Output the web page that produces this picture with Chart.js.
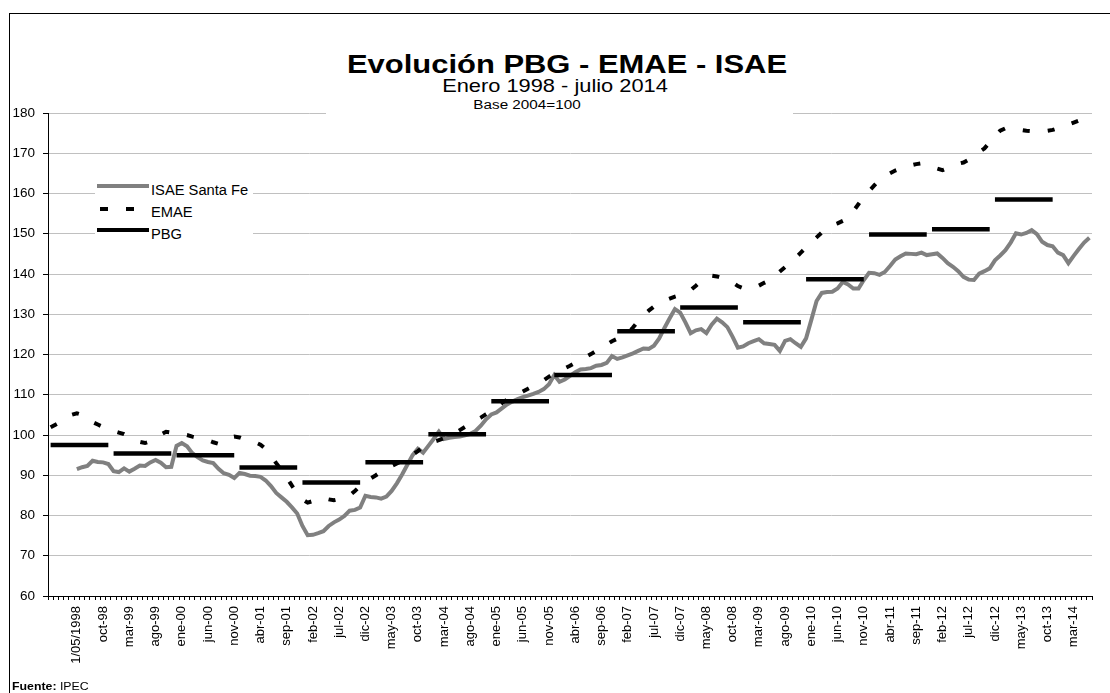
<!DOCTYPE html>
<html>
<head>
<meta charset="utf-8">
<script src="https://cdn.jsdelivr.net/npm/chart.js@4.4.1/dist/chart.umd.min.js"></script>
<style>
  body { margin: 0; background: #fff; font-family: "Liberation Sans", Arial, sans-serif; }
  #wrap { position: relative; width: 1110px; height: 693px; overflow: hidden; background: #fff; }
  #frame { position: absolute; left: 9px; top: 13px; width: 1200px; height: 800px; border: 1px solid #000; }
  canvas { position: absolute; left: 0; top: 0; }
  .box { position: absolute; background: #fff; }
  .t { position: absolute; white-space: nowrap; line-height: 1; color: #000; }
  .c { transform-origin: 50% 50%; }
  .l { transform-origin: 0 50%; }
  .sw { position: absolute; height: 4px; }
</style>
</head>
<body>
<div id="wrap">
  <div id="frame"></div>
  <canvas id="chart" width="1110" height="693"></canvas>

  <div class="box" style="left:326px;top:40px;width:467px;height:78px;"></div>
  <div class="t c" style="left:567px;top:51px;font-size:26px;font-weight:bold;transform:translateX(-50%) scaleX(1.19);">Evolución PBG - EMAE - ISAE</div>
  <div class="t c" style="left:555px;top:77px;font-size:18.5px;transform:translateX(-50%) scaleX(1.18);">Enero 1998 - julio 2014</div>
  <div class="t c" style="left:527px;top:98.7px;font-size:12.5px;transform:translateX(-50%) scaleX(1.22);">Base 2004=100</div>

  <div class="box" style="left:95px;top:178px;width:158px;height:66px;"></div>
  <div class="sw" style="left:97px;top:184px;width:52px;background:#808080;"></div>
  <div class="sw" style="left:100px;top:207px;width:8px;background:#000;"></div>
  <div class="sw" style="left:126px;top:207px;width:8px;background:#000;"></div>
  <div class="sw" style="left:97px;top:228px;width:52px;background:#000;"></div>
  <div class="t l" style="left:151px;top:183px;font-size:14px;transform:scaleX(1.05);">ISAE Santa Fe</div>
  <div class="t l" style="left:151px;top:205px;font-size:14px;transform:scaleX(1.05);">EMAE</div>
  <div class="t l" style="left:151px;top:226.5px;font-size:14px;transform:scaleX(1.05);">PBG</div>

  <div class="t l" style="left:12px;top:681px;font-size:11px;transform:scaleX(1.12);"><b>Fuente:</b> IPEC</div>
</div>

<script>
  // monthly categories: enero 1998 .. julio 2014
  var MONTHS = ["ene", "feb", "mar", "abr", "may", "jun", "jul", "ago", "sep", "oct", "nov", "dic"];
  var START_YEAR = 1998;
  var N_MONTHS = 199;

  // labels shown on the x axis (every 5 months, from the 6th category)
  var tickLabels = [
    "1/05/1998", "oct-98", "mar-99", "ago-99", "ene-00", "jun-00", "nov-00", "abr-01",
    "sep-01", "feb-02", "jul-02", "dic-02", "may-03", "oct-03", "mar-04", "ago-04",
    "ene-05", "jun-05", "nov-05", "abr-06", "sep-06", "feb-07", "jul-07", "dic-07",
    "may-08", "oct-08", "mar-09", "ago-09", "ene-10", "jun-10", "nov-10", "abr-11",
    "sep-11", "feb-12", "jul-12", "dic-12", "may-13", "oct-13", "mar-14"
  ];

  var yTicks = [60, 70, 80, 90, 100, 110, 120, 130, 140, 150, 160, 170, 180];

  // ISAE Santa Fe, monthly (starts jun-1998)
  var isae = [
    null, null, null, null, null, 91.5, 92.0, 92.3, 93.6, 93.3, 93.2, 92.8,
    91.0, 90.8, 91.7, 90.9, 91.6, 92.4, 92.3, 93.2, 93.8, 93.1, 92.0, 92.1,
    97.3, 98.0, 97.2, 95.5, 94.5, 93.7, 93.3, 93.0, 91.6, 90.5, 90.1, 89.3,
    90.6, 90.3, 89.9, 89.8, 89.6, 88.7, 87.3, 85.6, 84.5, 83.4, 82.0, 80.5,
    77.4, 75.1, 75.2, 75.6, 76.1, 77.4, 78.3, 79.0, 79.9, 81.2, 81.4, 82.0,
    84.9, 84.6, 84.5, 84.2, 84.7, 86.1, 88.0, 90.2, 92.6, 95.0, 96.6, 95.6,
    97.3, 99.0, 100.8, 99.0, 99.3, 99.5, 99.6, 99.9, 100.3, 101.0, 102.3, 103.9,
    105.1, 105.6, 106.6, 107.6, 108.3, 108.9, 109.4, 109.8, 110.2, 110.7, 111.4, 112.6,
    114.9, 113.2, 113.8, 114.7, 115.6, 116.3, 116.4, 116.6, 117.2, 117.4, 117.9, 119.6,
    118.9, 119.3, 119.8, 120.3, 120.9, 121.5, 121.4, 122.2, 124.0, 126.6, 129.0, 131.3,
    130.4, 128.0, 125.3, 126.0, 126.3, 125.3, 127.4, 128.9, 128.0, 126.8, 124.4, 121.7,
    122.0, 122.8, 123.3, 123.8, 122.8, 122.6, 122.4, 120.9, 123.4, 123.8, 122.8, 121.9,
    124.0, 128.6, 133.3, 135.3, 135.5, 135.6, 136.4, 138.0, 137.4, 136.4, 136.4, 138.5,
    140.3, 140.2, 139.8, 140.5, 142.0, 143.6, 144.4, 145.1, 145.0, 144.9, 145.3, 144.7,
    144.9, 145.1, 144.0, 142.7, 141.8, 140.7, 139.3, 138.6, 138.5, 140.1, 140.7, 141.4,
    143.4, 144.6, 145.9, 147.8, 150.1, 149.8, 150.2, 150.9, 149.9, 148.0, 147.2, 146.9,
    145.3, 144.7, 142.7, 144.5, 146.2, 147.8, 149.0
  ];

  // EMAE, monthly
  var emae = [
    101.9, 102.6, 103.3, 104.2, 105.0, 105.4, 105.0, 104.1, 103.2, 102.6, 102.0, 101.5,
    101.0, 100.6, 100.2, 99.5, 98.9, 98.3, 98.0, 98.4, 99.2, 100.1, 100.8, 100.6,
    100.4, 100.2, 100.0, 99.6, 99.3, 99.0, 98.7, 98.2, 97.8, 98.5, 99.3, 99.6,
    99.4, 98.9, 98.6, 98.2, 97.6, 96.5, 94.8, 93.0, 91.3, 89.4, 87.4, 85.5,
    84.0, 83.2, 83.6, 84.2, 84.3, 84.0, 83.8, 84.1, 84.3, 85.0, 86.1, 87.3,
    88.4, 89.2, 90.0, 90.9, 91.7, 92.3, 92.9, 93.6, 94.2, 95.1, 96.0, 97.0,
    97.8, 98.3, 98.7, 99.2, 99.6, 100.4, 101.2, 102.0, 102.8, 103.5, 104.3, 105.2,
    106.0, 106.9, 107.9, 108.8, 109.6, 110.1, 110.8, 111.5, 112.2, 112.8, 113.6, 114.5,
    115.3, 116.0, 116.6, 117.2, 117.9, 118.7, 119.4, 120.1, 120.9, 121.7, 122.5, 123.3,
    123.9, 124.6, 125.3, 126.7, 128.3, 129.8, 130.9, 131.9, 132.8, 133.4, 133.9, 134.4,
    134.8, 135.2, 136.0, 137.1, 138.3, 139.3, 139.6, 139.4, 139.0, 138.6, 137.9, 137.0,
    136.5, 136.3, 136.6, 137.1, 137.8, 138.4, 139.5, 140.6, 141.7, 142.7, 144.0, 145.3,
    146.6, 147.9, 149.1, 150.3, 151.4, 152.1, 152.6, 153.2, 153.8, 155.6, 157.4, 159.2,
    160.6, 162.0, 163.4, 164.3, 165.0, 165.7, 166.2, 166.6, 167.0, 167.3, 167.5, 167.2,
    166.7, 166.2, 165.8, 166.3, 166.9, 167.4, 167.7, 168.4, 169.3, 170.3, 171.2, 172.7,
    174.2, 175.6, 176.2, 176.0, 175.8, 175.8, 175.6, 175.5, 175.5, 175.6, 175.6, 175.8,
    176.2, 176.6, 177.1, 177.6, 178.1
  ];

  // PBG, one value per year 1998..2013
  var pbgYears = [1998, 1999, 2000, 2001, 2002, 2003, 2004, 2005, 2006, 2007, 2008, 2009, 2010, 2011, 2012, 2013];
  var pbg = [97.5, 95.4, 95.0, 91.9, 88.2, 93.2, 100.2, 108.4, 114.9, 125.8, 131.7, 128.0, 138.7, 149.8, 151.1, 158.5];

  var categories = [];
  for (var i = 0; i < N_MONTHS; i++) {
    categories.push(MONTHS[i % 12] + "-" + String(START_YEAR + Math.floor(i / 12)).slice(2));
  }

  // the annual PBG value repeated over the months of its year
  var pbgMonthly = categories.map(function (c, i) {
    var k = pbgYears.indexOf(START_YEAR + Math.floor(i / 12));
    return k >= 0 ? pbg[k] : null;
  });

  function sameYear(ctx) {
    return Math.floor(ctx.p0DataIndex / 12) === Math.floor(ctx.p1DataIndex / 12);
  }

  new Chart(document.getElementById("chart").getContext("2d"), {
    type: "line",
    data: {
      labels: categories,
      datasets: [
        {
          label: "ISAE Santa Fe",
          data: isae,
          borderColor: "#808080",
          borderWidth: 4,
          pointRadius: 0,
          tension: 0,
          order: 3
        },
        {
          label: "EMAE",
          data: emae,
          borderColor: "#000",
          borderWidth: 4,
          borderDash: [7, 18],
          borderCapStyle: "butt",
          pointRadius: 0,
          tension: 0,
          order: 2
        },
        {
          label: "PBG",
          data: pbgMonthly,
          borderColor: "#000",
          borderWidth: 4.5,
          borderCapStyle: "butt",
          pointRadius: 0,
          tension: 0,
          order: 1,
          segment: {
            borderColor: function (ctx) { return sameYear(ctx) ? "#000" : "rgba(0,0,0,0)"; }
          }
        }
      ]
    },
    options: {
      responsive: false,
      animation: false,
      devicePixelRatio: 1,
      layout: { padding: { top: 113, right: 18, bottom: 0, left: 0 } },
      plugins: {
        legend: { display: false },
        title: { display: false },
        tooltip: { enabled: false }
      },
      scales: {
        x: {
          type: "category",
          offset: true,
          grid: { display: true, drawOnChartArea: false, offset: true, tickLength: 4, tickColor: "#000" },
          border: { color: "#000", width: 1 },
          ticks: {
            autoSkip: false,
            maxRotation: 90,
            minRotation: 90,
            padding: 6,
            color: "#000",
            font: { family: "'Liberation Sans', Arial, sans-serif", size: 13 },
            callback: function (value, index) {
              if (index >= 5 && index % 5 === 0) return tickLabels[index / 5 - 1] || "";
              return "";
            }
          },
          afterFit: function (scale) {
            scale.height = 97;
            scale.paddingLeft = 0;
            scale.paddingRight = 0;
          }
        },
        y: {
          min: yTicks[0],
          max: yTicks[yTicks.length - 1],
          grid: { color: "#c0c0c0", lineWidth: 1, tickColor: "#000", tickLength: 5 },
          border: { color: "#000", width: 1 },
          ticks: {
            stepSize: 10,
            padding: 8,
            color: "#000",
            font: { family: "'Liberation Sans', Arial, sans-serif", size: 13.5 }
          },
          afterBuildTicks: function (scale) {
            scale.ticks = yTicks.map(function (v) { return { value: v }; });
          },
          afterFit: function (scale) {
            scale.width = 48;
            scale.paddingTop = 0;
            scale.paddingBottom = 0;
          }
        }
      }
    }
  });
</script>
</body>
</html>
